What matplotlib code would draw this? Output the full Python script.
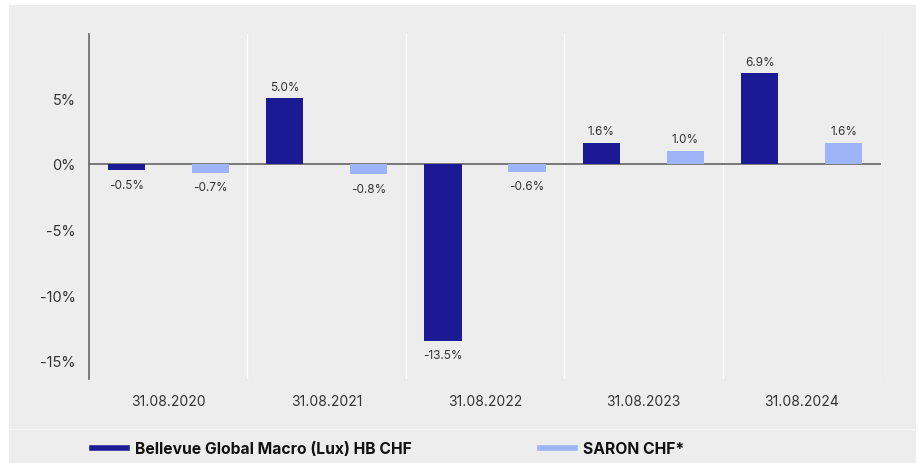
import numpy as np
import matplotlib.pyplot as plt
from matplotlib.patches import Rectangle
from matplotlib.lines import Line2D

plt.rcParams['font.family'] = ['Inter', 'DejaVu Sans']

dates = ["31.08.2020", "31.08.2021", "31.08.2022", "31.08.2023", "31.08.2024"]
fund = [-0.5, 5.0, -13.5, 1.6, 6.9]
saron = [-0.7, -0.8, -0.6, 1.0, 1.6]
fund_name = "Bellevue Global Macro (Lux) HB CHF"
saron_name = "SARON CHF*"
yticks = [5, 0, -5, -10, -15]

dark = "#1b1a94"
light = "#9db4f8"
panel = "#ededed"
txt = "#333333"

fig = plt.figure(figsize=(9.2, 4.64), dpi=100)
fig.patch.set_facecolor("white")
# grey panel behind chart and legend
fig.add_artist(Rectangle((9 / 920, 0), 907 / 920, 458 / 464, transform=fig.transFigure,
                         facecolor=panel, edgecolor="none", zorder=-10))
fig.add_artist(Line2D([9 / 920, 916 / 920], [1 - 430 / 464] * 2, transform=fig.transFigure,
                      color="#f6f6f6", lw=0.8))

ax = fig.add_axes([89 / 920, 1 - 380 / 464, 792 / 920, 345 / 464])
ax.set_facecolor("none")

x = np.arange(len(dates))
w = 0.235
off = 0.265
b1 = ax.bar(x - off, fund, w, color=dark, zorder=3)
b2 = ax.bar(x + off, saron, w, color=light, zorder=3)

for bars, vals in [(b1, fund), (b2, saron)]:
    for b, v in zip(bars, vals):
        cx = b.get_x() + b.get_width() / 2
        if v >= 0:
            ax.annotate(f"{v:.1f}%", (cx, v), xytext=(0, 4), textcoords="offset points",
                        ha="center", va="bottom", fontsize=8.5, color=txt)
        else:
            ax.annotate(f"{v:.1f}%", (cx, v), xytext=(0, -6), textcoords="offset points",
                        ha="center", va="top", fontsize=8.5, color=txt)

ax.set_xlim(-0.5, len(dates) - 0.5)
ax.set_ylim(-16.4, 9.9)
ax.axhline(0, color="#777777", lw=1.4, zorder=2)
for gx in np.arange(0.5, len(dates), 1.0):
    ax.axvline(gx, color="white", lw=1.0, zorder=1)

ax.set_xticks(x)
ax.set_xticklabels(dates, fontsize=10, color=txt)
ax.set_yticks(yticks)
ax.set_yticklabels([f"{t}%" for t in yticks], fontsize=10.5, color=txt)
ax.tick_params(axis="both", length=0)
ax.tick_params(axis="y", pad=9.5)
ax.tick_params(axis="x", pad=11)

for s in ["top", "right", "bottom"]:
    ax.spines[s].set_visible(False)
ax.spines["left"].set_color("#666666")
ax.spines["left"].set_linewidth(1.2)

handles = [Line2D([], [], color=dark, lw=4), Line2D([], [], color=light, lw=4)]
leg = fig.legend(handles, [fund_name, saron_name], loc="center left",
                 bbox_to_anchor=(83 / 920, 1 - 450 / 464), ncol=2, frameon=False,
                 handlelength=2.2, handletextpad=0.5, columnspacing=8.2,
                 borderaxespad=0, borderpad=0.6,
                 prop={"weight": "bold", "size": 11.3})
for t in leg.get_texts():
    t.set_color("#111111")

fig.savefig("out.png", dpi=100)
